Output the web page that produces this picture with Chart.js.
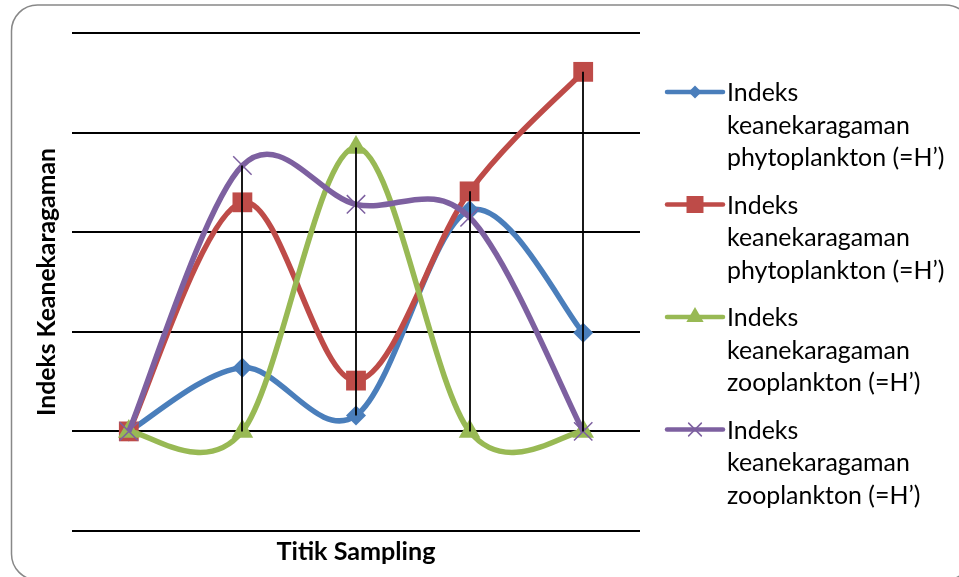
<!DOCTYPE html>
<html>
<head>
<meta charset="utf-8">
<script src="https://cdn.jsdelivr.net/npm/chart.js@4/dist/chart.umd.min.js"></script>
<style>
  html, body { margin: 0; padding: 0; background: #fff; }
  #wrap { width: 959px; height: 577px; }
</style>
</head>
<body>
<div id="wrap"><canvas id="c" width="959" height="577"></canvas></div>
<script>
// ---- data ----
const categories = ['1', '2', '3', '4', '5'];
const phytoA = [1.0, 1.64, 1.16, 3.22, 1.99];
const phytoB = [1.0, 3.30, 1.51, 3.41, 4.61];
const zooA   = [1.0, 1.0, 3.85, 1.0, 1.0];
const zooB   = [1.0, 3.67, 3.28, 3.15, 1.0];
const seriesNames = [
  ['Indeks', 'keanekaragaman', 'phytoplankton (=H\u2019)'],
  ['Indeks', 'keanekaragaman', 'phytoplankton (=H\u2019)'],
  ['Indeks', 'keanekaragaman', 'zooplankton (=H\u2019)'],
  ['Indeks', 'keanekaragaman', 'zooplankton (=H\u2019)']
];
const yTitle = 'Indeks Keanekaragaman';
const xTitle = 'Titik Sampling';

// ---- styles ----
const FAMILY = 'Lato, "Open Sans", sans-serif';
const colors = ['#4A7EBB', '#BE4B48', '#98B954', '#7D60A0'];
const styles = ['rectRot', 'rect', 'triangle', 'crossRot'];
const radii = [10, 14, 12.5, 13];
const legendRadii = [6.5, 12, 10, 9];

function fitSize(text, target, weight) {
  const cv = document.createElement('canvas').getContext('2d');
  cv.font = weight + ' 100px ' + FAMILY;
  return 100 * target / cv.measureText(text).width;
}
const legendSize = fitSize('keanekaragaman', 183, 'normal');
const xTitleSize = fitSize(xTitle, 159, 'bold');
const yTitleSize = fitSize(yTitle, 268, 'bold');

// Excel-like smoothing (Catmull-Rom, 1/6 tangents)
const excelSmooth = {
  id: 'excelSmooth',
  beforeDatasetsDraw(chart) {
    chart.data.datasets.forEach((ds, di) => {
      const meta = chart.getDatasetMeta(di);
      const line = meta.dataset;
      if (line && line.updateControlPoints) line.updateControlPoints(chart.chartArea, 'x');
      const pts = meta.data;
      const n = pts.length;
      for (let i = 0; i < n; i++) {
        const p = pts[i];
        const prev = pts[Math.max(0, i - 1)];
        const next = pts[Math.min(n - 1, i + 1)];
        const tx = (next.x - prev.x) / 6;
        const ty = (next.y - prev.y) / 6;
        p.cp1x = p.x - tx; p.cp1y = p.y - ty;
        p.cp2x = p.x + tx; p.cp2y = p.y + ty;
      }
      if (line) { line._path = undefined; }
    });
  }
};

// high-low lines
const highLow = {
  id: 'highLow',
  afterDatasetsDraw(chart) {
    const ctx = chart.ctx;
    const metas = chart.data.datasets.map((d, i) => chart.getDatasetMeta(i));
    ctx.save();
    ctx.strokeStyle = '#000';
    ctx.lineWidth = 1.8;
    for (let i = 0; i < categories.length; i++) {
      let lo = Infinity, hi = -Infinity, x = 0;
      metas.forEach(m => { const p = m.data[i]; x = p.x; lo = Math.min(lo, p.y); hi = Math.max(hi, p.y); });
      ctx.beginPath();
      ctx.moveTo(Math.round(x), lo);
      ctx.lineTo(Math.round(x), hi);
      ctx.stroke();
    }
    ctx.restore();
  }
};

// frame
const frame = {
  id: 'frame',
  beforeDraw(chart) {
    const ctx = chart.ctx;
    ctx.save();
    ctx.fillStyle = '#fff';
    ctx.fillRect(0, 0, chart.width, chart.height);
    ctx.strokeStyle = '#888';
    ctx.lineWidth = 1.5;
    ctx.beginPath();
    ctx.roundRect(11.5, 5, 960, 575, 26);
    ctx.stroke();
    ctx.restore();
  }
};

function drawMarker(ctx, style, x, y, r, color) {
  ctx.save();
  ctx.fillStyle = color; ctx.strokeStyle = color;
  ctx.beginPath();
  if (style === 'rectRot') {
    ctx.moveTo(x, y - r); ctx.lineTo(x + r, y); ctx.lineTo(x, y + r); ctx.lineTo(x - r, y); ctx.closePath(); ctx.fill();
  } else if (style === 'rect') {
    const s = r * Math.SQRT1_2;
    ctx.rect(x - s, y - s, 2 * s, 2 * s); ctx.fill();
  } else if (style === 'triangle') {
    ctx.moveTo(x, y - r);
    ctx.lineTo(x + r * Math.sin(Math.PI / 3), y + r / 2);
    ctx.lineTo(x - r * Math.sin(Math.PI / 3), y + r / 2);
    ctx.closePath(); ctx.fill();
  } else if (style === 'crossRot') {
    const s = r * Math.SQRT1_2;
    ctx.lineWidth = 1.5;
    ctx.moveTo(x - s, y - s); ctx.lineTo(x + s, y + s);
    ctx.moveTo(x + s, y - s); ctx.lineTo(x - s, y + s);
    ctx.stroke();
  }
  ctx.restore();
}

// custom legend
const sideLegend = {
  id: 'sideLegend',
  afterDraw(chart) {
    const ctx = chart.ctx;
    const x0 = 667, x1 = 723, tx = 727;
    const top = 92, step = 112.5, lh = 32.5;
    ctx.save();
    chart.data.datasets.forEach((ds, i) => {
      const y = top + i * step;
      ctx.strokeStyle = colors[i];
      ctx.lineWidth = 4.5;
      ctx.lineCap = 'round';
      ctx.beginPath(); ctx.moveTo(x0, y); ctx.lineTo(x1, y); ctx.stroke();
      drawMarker(ctx, styles[i], (x0 + x1) / 2, y, legendRadii[i], colors[i]);
      ctx.fillStyle = '#000';
      ctx.font = legendSize.toFixed(2) + 'px ' + FAMILY;
      ctx.textBaseline = 'middle';
      ctx.textAlign = 'left';
      seriesNames[i].forEach((t, k) => ctx.fillText(t, tx, y + k * lh + 1));
    });
    ctx.restore();
  }
};

const seriesData = [phytoA, phytoB, zooA, zooB];
const datasets = seriesData.map((d, i) => ({
  label: seriesNames[i].join(' '),
  data: d,
  borderColor: colors[i],
  backgroundColor: colors[i],
  borderWidth: 5.5,
  tension: 0.4,
  pointStyle: styles[i],
  pointRadius: radii[i],
  pointBorderWidth: styles[i] === 'crossRot' ? 1.5 : 0,
  pointBorderColor: colors[i],
  pointBackgroundColor: colors[i],
  order: 4 - i,
  clip: false
}));

new Chart(document.getElementById('c'), {
  type: 'line',
  data: { labels: categories, datasets },
  options: {
    responsive: false,
    animation: false,
    events: [],
    layout: { padding: { left: 12, top: 33, right: 319, bottom: 0 } },
    plugins: { legend: { display: false }, tooltip: { enabled: false } },
    scales: {
      x: {
        offset: true,
        grid: { display: false },
        border: { display: false },
        ticks: { display: false },
        title: { display: true, text: xTitle, color: '#000',
          font: { family: FAMILY, weight: 'bold', size: xTitleSize, lineHeight: 1.2 },
          padding: { top: 0, bottom: 10 } },
        afterFit(s) { s.height = 46; }
      },
      y: {
        min: 0, max: 5,
        ticks: { display: false, stepSize: 1 },
        grid: { color: '#000', lineWidth: 2, drawTicks: false },
        border: { display: false },
        title: { display: true, text: yTitle, color: '#000',
          font: { family: FAMILY, weight: 'bold', size: yTitleSize, lineHeight: 1.2 },
          padding: { top: 20, bottom: 0 } },
        afterFit(s) { s.width = 60; }
      }
    }
  },
  plugins: [frame, excelSmooth, highLow, sideLegend]
});
</script>
</body>
</html>
